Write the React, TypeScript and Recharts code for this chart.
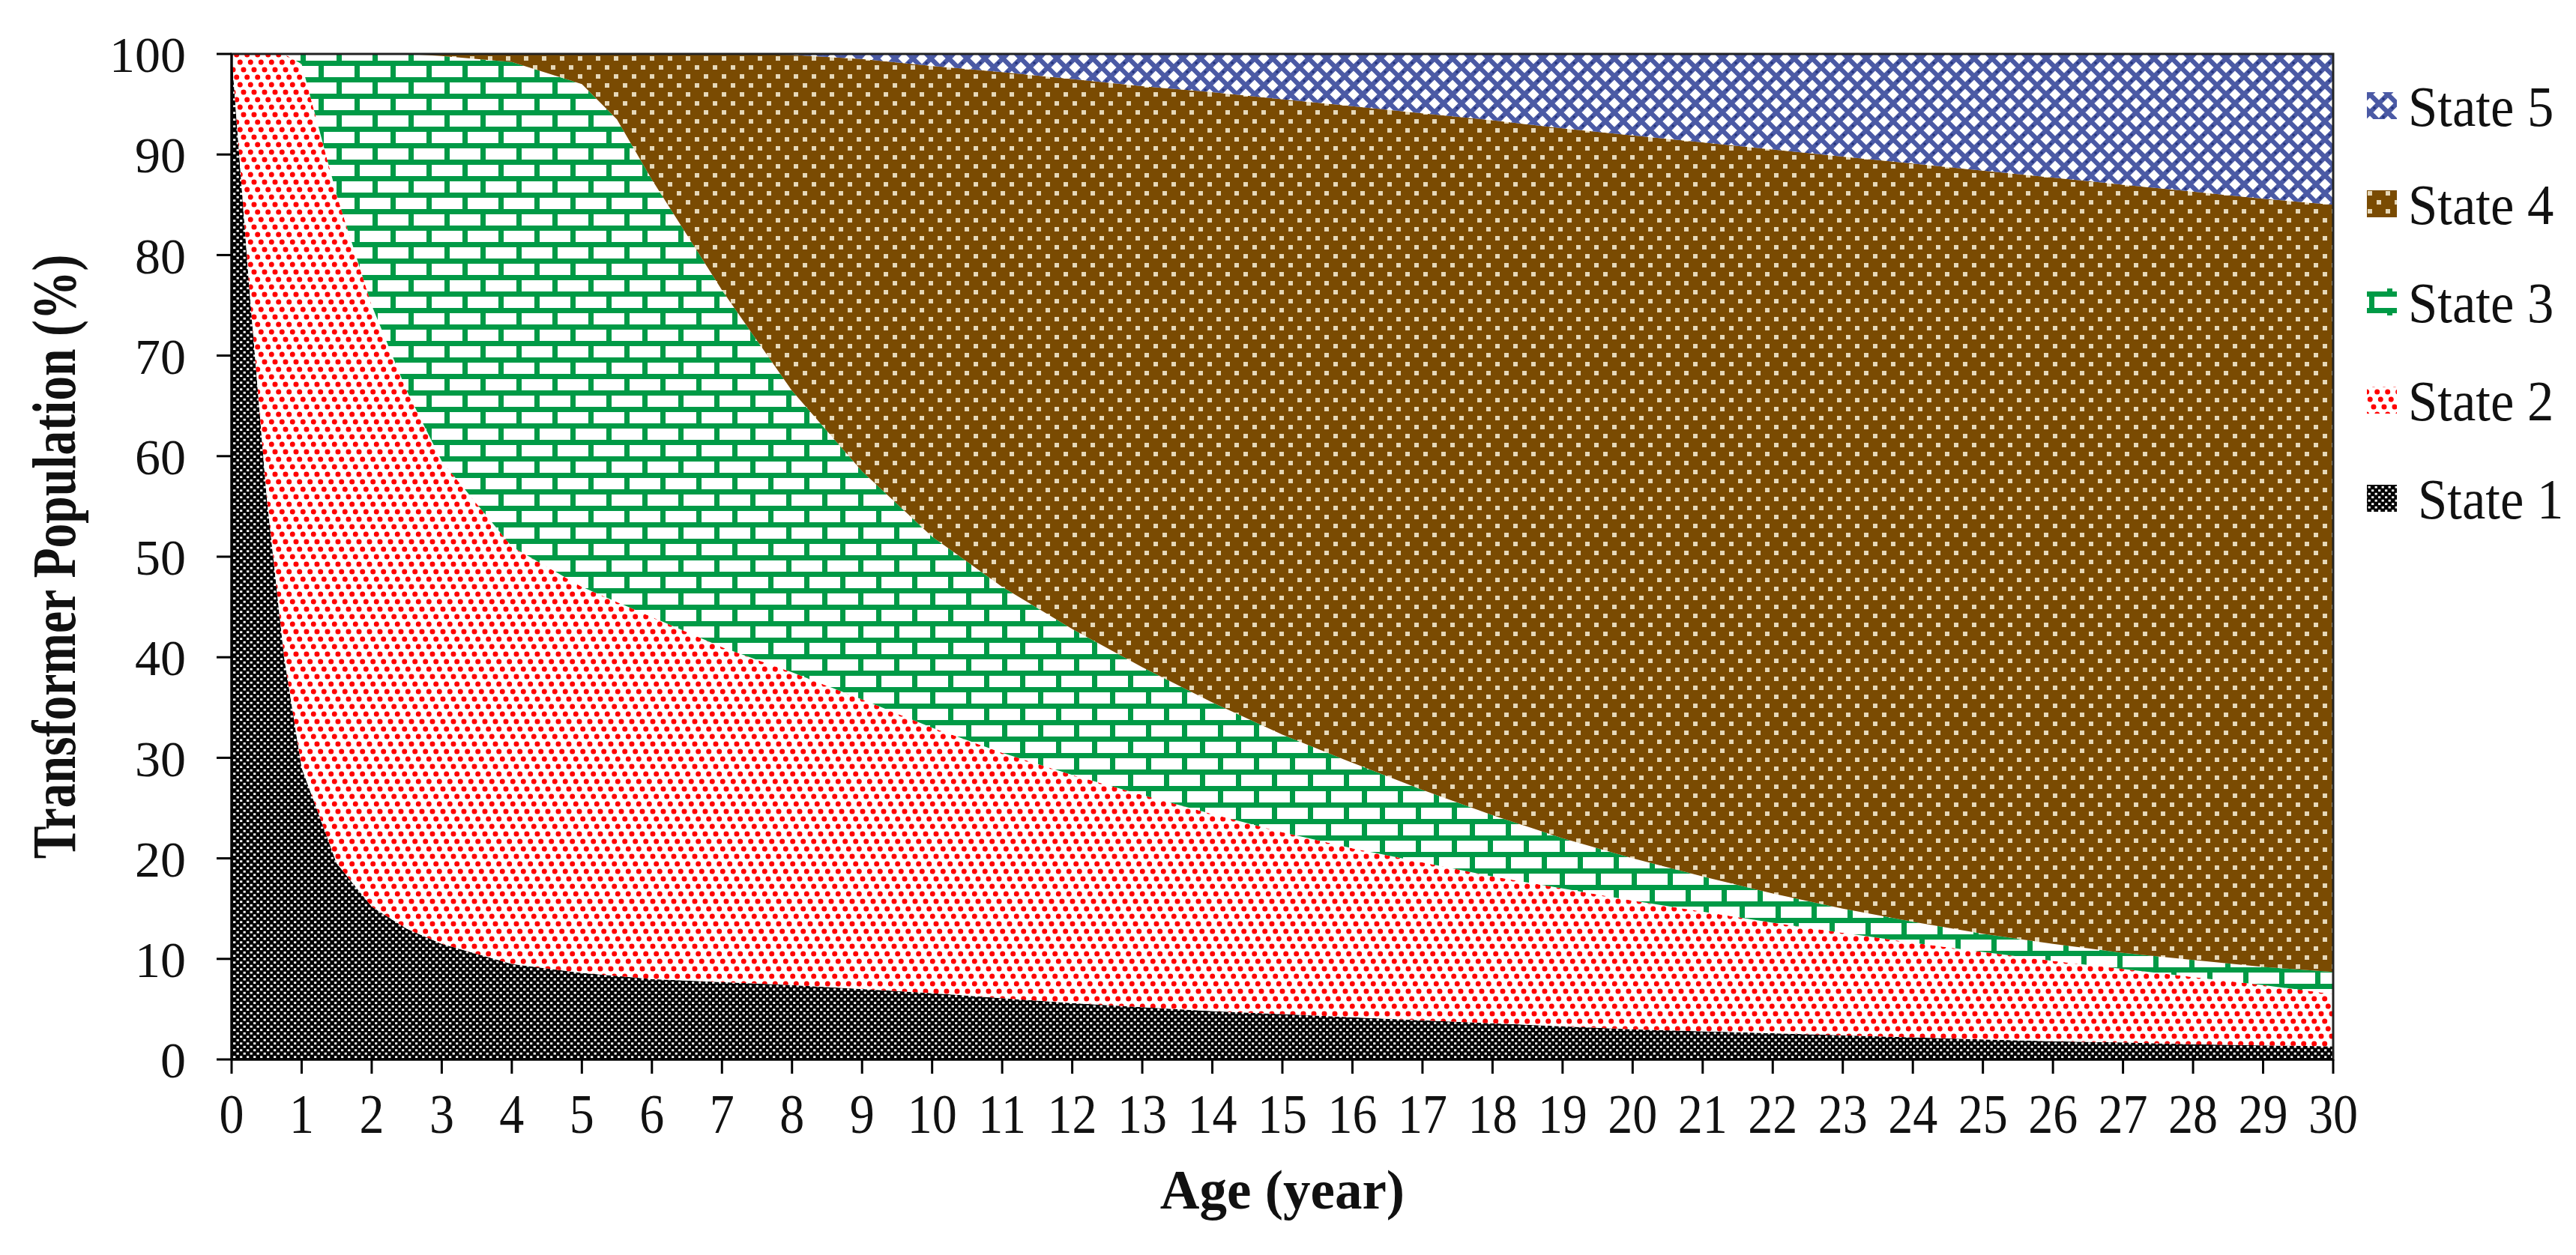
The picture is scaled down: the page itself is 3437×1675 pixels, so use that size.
import { Area, AreaChart, Label, ReferenceArea, XAxis, YAxis } from "recharts";

const SERIF = '"Liberation Serif", "Times New Roman", serif';

// ages (years) and share of the population in each state (%)
const AGES = [0, 0.25, 0.5, 0.75, 1, 1.5, 2, 2.5, 3, 4, 5, 5.5, 6, 7, 8, 9, 10, 11, 12, 13, 14, 15, 16, 17, 18, 19, 20, 21, 22, 23, 24, 25, 26, 27, 28, 29, 30];
const STATE_1 = [100, 77, 56, 40, 29, 19.5, 15.2, 13, 11.5, 9.5, 8.6, 8.3, 8.0, 7.7, 7.4, 7.0, 6.6, 6.1, 5.6, 5.2, 4.8, 4.5, 4.2, 3.9, 3.6, 3.3, 3.0, 2.8, 2.6, 2.4, 2.2, 2.0, 1.8, 1.7, 1.5, 1.4, 1.3];
const STATE_2 = [0, 23, 44, 60, 70, 66.5, 59.8, 53.5, 48, 41.5, 38.4, 37.2, 36, 33.3, 31.1, 28.8, 26.4, 24.4, 22.7, 21.1, 19.6, 18.1, 16.8, 15.7, 14.6, 13.7, 12.8, 11.9, 11.0, 10.2, 9.4, 8.7, 8.0, 7.3, 6.7, 6.0, 5.2];
const STATE_3 = [0, 0, 0, 0, 1, 14, 25, 33.5, 40.3, 48.2, 50, 48, 43.5, 35.5, 28, 22.7, 19, 16.5, 14.5, 12.7, 11.1, 9.7, 8.5, 7.2, 6.1, 5, 4.2, 3.5, 2.9, 2.4, 2.1, 1.8, 1.7, 1.6, 1.7, 1.8, 2.2];
const STATE_4 = [0, 0, 0, 0, 0, 0, 0, 0, 0.2, 0.8, 3, 6.5, 12.5, 23.5, 33.4, 41, 46.8, 51.2, 54.7, 57.8, 60.7, 63.2, 65.3, 67.3, 69.1, 70.6, 71.9, 73, 74, 74.8, 75.4, 75.9, 76.2, 76.4, 76.4, 76.4, 76.3];
const STATE_5 = [0, 0, 0, 0, 0, 0, 0, 0, 0, 0, 0, 0, 0, 0, 0.1, 0.5, 1.2, 1.8, 2.5, 3.2, 3.8, 4.5, 5.2, 5.9, 6.6, 7.4, 8.1, 8.8, 9.5, 10.2, 10.9, 11.6, 12.3, 13, 13.7, 14.4, 15];

const X_TICKS = Array.from({ length: 31 }, (_, i) => i);
const Y_TICKS = [0, 10, 20, 30, 40, 50, 60, 70, 80, 90, 100];

const SERIES = [
  { key: "s1", name: "State 1", pat: "pat-s1" },
  { key: "s2", name: "State 2", pat: "pat-s2" },
  { key: "s3", name: "State 3", pat: "pat-s3" },
  { key: "s4", name: "State 4", pat: "pat-s4" },
  { key: "s5", name: "State 5", pat: "pat-s5" },
];

const data = AGES.map((age, i) => ({
  age,
  s1: STATE_1[i],
  s2: STATE_2[i],
  s3: STATE_3[i],
  s4: STATE_4[i],
  s5: STATE_5[i],
}));

function Diamond({ cx, cy, r }: { cx: number; cy: number; r: number }) {
  return <path d={`M${cx} ${cy - r} L${cx + r} ${cy} L${cx} ${cy + r} L${cx - r} ${cy} Z`} fill="#fff" />;
}

function Patterns() {
  const centers = [[6, 6], [18, 18], [18, -6], [30, 6], [-6, 18], [6, 30], [-6, -6], [30, 30]];
  return (
    <defs>
      {/* state 1: black with small white holes */}
      <pattern id="pat-s1" width="9" height="9" patternUnits="userSpaceOnUse">
        <rect width="9" height="9" fill="#000" />
        <rect x="0.6" y="0.8" width="3.2" height="2.8" fill="#fff" />
        <rect x="5.1" y="5.3" width="3.2" height="2.8" fill="#fff" />
      </pattern>
      {/* state 2: red dots on white, diagonal rows */}
      <pattern id="pat-s2" width="14" height="30" patternUnits="userSpaceOnUse">
        <rect width="14" height="30" fill="#fff" />
        <circle cx="3" cy="3" r="3.5" fill="#f00" />
        <circle cx="7.7" cy="13" r="3.5" fill="#f00" />
        <circle cx="12.3" cy="23" r="3.5" fill="#f00" />
        <circle cx="-1.7" cy="23" r="3.5" fill="#f00" />
        <circle cx="17" cy="3" r="3.5" fill="#f00" />
        <circle cx="3" cy="33" r="3.5" fill="#f00" />
      </pattern>
      {/* state 3: green horizontal brick */}
      <pattern id="pat-s3" width="48" height="44" patternUnits="userSpaceOnUse">
        <rect width="48" height="44" fill="#009a46" />
        <rect x="0" y="0" width="41" height="15" fill="#fff" />
        <rect x="24" y="22" width="24" height="15" fill="#fff" />
        <rect x="0" y="22" width="17" height="15" fill="#fff" />
      </pattern>
      {/* state 4: brown with light dots */}
      <pattern id="pat-s4" width="24" height="24" patternUnits="userSpaceOnUse">
        <rect width="24" height="24" fill="#7a4b02" />
        <rect x="3" y="3" width="6" height="6" fill="#e6d8b8" />
        <rect x="15" y="15" width="6" height="6" fill="#e6d8b8" />
      </pattern>
      {/* state 5: blue lattice with white diamonds */}
      <pattern id="pat-s5" width="24" height="24" patternUnits="userSpaceOnUse">
        <rect width="24" height="24" fill="#4b5aa5" />
        {centers.map(([cx, cy], i) => (
          <Diamond key={i} cx={cx} cy={cy} r={7.6} />
        ))}
        <circle cx="12" cy="12" r="1.8" fill="#24337a" />
        <circle cx="0" cy="0" r="1.8" fill="#24337a" />
        <circle cx="24" cy="0" r="1.8" fill="#24337a" />
        <circle cx="0" cy="24" r="1.8" fill="#24337a" />
        <circle cx="24" cy="24" r="1.8" fill="#24337a" />
      </pattern>
    </defs>
  );
}

function XTick(props: any) {
  const { x, y, payload } = props;
  return (
    <text
      transform={`translate(${x},${y + 77}) scale(0.88,1)`}
      textAnchor="middle"
      fontSize={75}
      fontFamily={SERIF}
      fill="#111"
    >
      {payload.value}
    </text>
  );
}

function YTitle() {
  return (
    <text
      transform="translate(100,743) rotate(-90) scale(0.8,1)"
      textAnchor="middle"
      fontSize={82}
      fontWeight="bold"
      fontFamily={SERIF}
      fill="#111"
    >
      Transformer Population (%)
    </text>
  );
}

function XTitle() {
  return (
    <text x={1711} y={1613} textAnchor="middle" fontSize={73} fontWeight="bold" fontFamily={SERIF} fill="#111">
      Age (year)
    </text>
  );
}

function LegendLayer() {
  const items = [...SERIES].reverse();
  return (
    <svg width={3437} height={1675} style={{ position: "absolute", left: 0, top: 0, pointerEvents: "none" }}>
      {items.map((s, i) => {
        const cy = 141 + i * 131;
        const tx = s.key === "s1" ? 3226 : 3213;
        return (
          <g key={s.key}>
            <rect x={3158} y={cy - 18} width={40} height={36} fill={`url(#${s.pat})`} />
            <text
              transform={`translate(${tx},${cy + 27}) scale(0.93,1)`}
              fontSize={76}
              fontFamily={SERIF}
              fill="#111"
            >
              {s.name}
            </text>
          </g>
        );
      })}
    </svg>
  );
}

export default function App() {
  return (
    <div style={{ position: "absolute", left: 0, top: 0, width: 3437, height: 1675, background: "#fff" }}>
      <AreaChart
        width={3437}
        height={1675}
        data={data}
        margin={{ top: 72, right: 324, bottom: 0, left: 0 }}
      >
        <Patterns />
        <XAxis
          dataKey="age"
          type="number"
          domain={[0, 30]}
          ticks={X_TICKS}
          interval={0}
          height={261}
          tickSize={19}
          tick={<XTick />}
          axisLine={{ stroke: "#000", strokeWidth: 3 }}
          tickLine={{ stroke: "#000", strokeWidth: 3 }}
        >
          <Label content={<XTitle />} />
        </XAxis>
        <YAxis
          type="number"
          domain={[0, 100]}
          ticks={Y_TICKS}
          interval={0}
          width={309}
          tickSize={20}
          tickMargin={41}
          tick={{ fontSize: 68, fontFamily: SERIF, fill: "#111" }}
          axisLine={{ stroke: "#000", strokeWidth: 3 }}
          tickLine={{ stroke: "#000", strokeWidth: 3 }}
        >
          <Label content={<YTitle />} />
        </YAxis>
        {SERIES.map((s) => (
          <Area
            key={s.key}
            type="linear"
            dataKey={s.key}
            name={s.name}
            stackId="1"
            stroke="none"
            fill={`url(#${s.pat})`}
            fillOpacity={1}
            isAnimationActive={false}
          />
        ))}
        <ReferenceArea x1={0} x2={30} y1={0} y2={100} fill="none" stroke="#222" strokeWidth={3} />
      </AreaChart>
      <LegendLayer />
    </div>
  );
}
